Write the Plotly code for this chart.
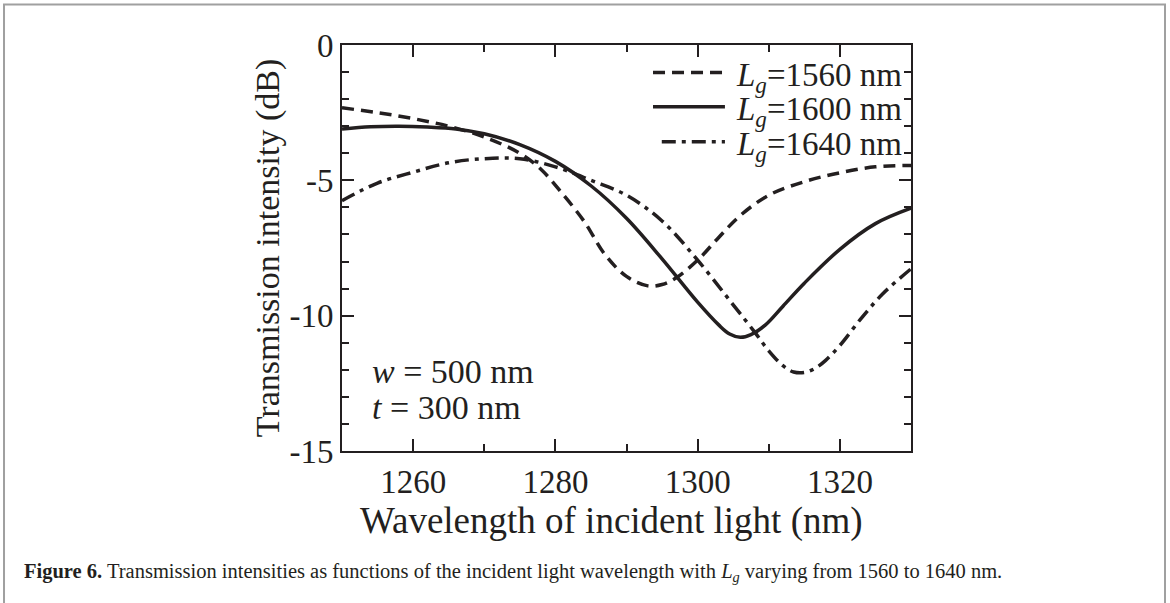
import plotly.graph_objects as go

# ---- data ----
wl_1560 = [1250, 1255, 1260, 1265, 1270, 1275, 1278, 1281, 1284, 1287, 1290, 1293, 1295, 1297,
           1300, 1303, 1306, 1310, 1315, 1320, 1325, 1330]
t_1560 = [-2.32, -2.5, -2.72, -3.0, -3.4, -4.0, -4.6, -5.5, -6.5, -7.75, -8.55, -8.9, -8.85, -8.6,
          -7.95, -7.1, -6.3, -5.55, -5.05, -4.72, -4.5, -4.45]

wl_1600 = [1250, 1254, 1258, 1262, 1266, 1270, 1275, 1280, 1285, 1290, 1295, 1300, 1303, 1304.5,
           1306, 1307.5, 1309.5, 1312, 1315, 1320, 1325, 1330]
t_1600 = [-3.1, -3.02, -3.0, -3.03, -3.1, -3.28, -3.68, -4.3, -5.2, -6.4, -7.9, -9.5, -10.35, -10.68,
          -10.8, -10.7, -10.35, -9.65, -8.8, -7.55, -6.6, -6.03]

wl_1640 = [1250, 1255, 1260, 1265, 1270, 1275, 1280, 1285, 1290, 1295, 1300, 1305, 1308, 1310,
           1312, 1313.5, 1315, 1316.5, 1318, 1320, 1323, 1326, 1330]
t_1640 = [-5.75, -5.1, -4.7, -4.35, -4.2, -4.2, -4.5, -5.0, -5.55, -6.5, -7.95, -9.6, -10.6, -11.3,
          -11.85, -12.08, -12.1, -11.95, -11.65, -11.1, -10.1, -9.2, -8.27]

series_names = ["<i>L</i><sub><i>g</i></sub>=1560 nm",
                "<i>L</i><sub><i>g</i></sub>=1600 nm",
                "<i>L</i><sub><i>g</i></sub>=1640 nm"]

x_tickvals = [1260, 1280, 1300, 1320]
x_ticktext = ["1260", "1280", "1300", "1320"]
y_tickvals = [0, -5, -10, -15]
y_ticktext = ["0", "-5", "-10", "-15"]

INK = "#231f20"
FONT = "Liberation Serif, Times New Roman, serif"
DASH = "12px,7px"
DASHDOT = "14px,6px,4px,6px"
LW = 3.5

fig = go.Figure()
fig.add_trace(go.Scatter(x=wl_1560, y=t_1560, mode="lines", name=series_names[0],
                         line=dict(color=INK, width=LW, dash=DASH, shape="spline", smoothing=1.0)))
fig.add_trace(go.Scatter(x=wl_1600, y=t_1600, mode="lines", name=series_names[1],
                         line=dict(color=INK, width=LW, shape="spline", smoothing=1.0)))
fig.add_trace(go.Scatter(x=wl_1640, y=t_1640, mode="lines", name=series_names[2],
                         line=dict(color=INK, width=LW, dash=DASHDOT, shape="spline", smoothing=1.0)))

# ---- legend drawn by hand (long samples, right aligned text) ----
leg_y = [0.932, 0.848, 0.762]
leg_x0 = [0.5466, 0.5466, 0.562]
leg_dash = [DASH, "solid", DASHDOT]
for i in range(3):
    fig.add_shape(type="line", xref="paper", yref="paper", x0=leg_x0[i], x1=0.673,
                  y0=leg_y[i], y1=leg_y[i], line=dict(color=INK, width=LW, dash=leg_dash[i]))
    fig.add_annotation(xref="paper", yref="paper", x=0.988, y=leg_y[i] - 0.012, text=series_names[i],
                       showarrow=False, xanchor="right", yanchor="middle",
                       font=dict(family=FONT, size=33, color=INK))

fig.add_annotation(xref="paper", yref="paper", x=0.05, y=0.1946, text="<i>w</i> = 500 nm",
                   showarrow=False, xanchor="left", yanchor="middle",
                   font=dict(family=FONT, size=34, color=INK))
fig.add_annotation(xref="paper", yref="paper", x=0.05, y=0.108, text="<i>t</i> = 300 nm",
                   showarrow=False, xanchor="left", yanchor="middle",
                   font=dict(family=FONT, size=34, color=INK))

# x-axis title (slightly left of the plot centre, as in the reference)
fig.add_annotation(xref="paper", yref="paper", x=0.4745, y=-0.172,
                   text="Wavelength of incident light (nm)",
                   showarrow=False, xanchor="center", yanchor="middle",
                   font=dict(family=FONT, size=37, color=INK))

# caption
fig.add_annotation(xref="paper", yref="paper", x=-0.5624, y=-0.3,
                   text="<b>Figure 6.</b> Transmission intensities as functions of the incident light "
                        "wavelength with <i>L</i><sub><i>g</i></sub> varying from 1560 to 1640 nm.",
                   showarrow=False, xanchor="left", yanchor="middle",
                   font=dict(family=FONT, size=20.5, color=INK))

# outer frame
fig.add_shape(type="rect", xref="paper", yref="paper", x0=-0.594, x1=1.4464, y0=-0.5, y1=1.1,
              line=dict(color="#a0a0a0", width=2), layer="below")

axis_common = dict(showline=True, linecolor=INK, linewidth=2, mirror="ticks", ticks="inside",
                   tickcolor=INK, tickwidth=2, ticklen=12, showgrid=False, zeroline=False,
                   tickfont=dict(family=FONT, size=33, color=INK))

fig.update_layout(
    width=1170, height=603,
    margin=dict(l=342, r=259, t=45, b=152),
    paper_bgcolor="white", plot_bgcolor="white",
    showlegend=False,
    xaxis=dict(range=[1250, 1330], tickvals=x_tickvals, ticktext=x_ticktext,
               minor=dict(ticks="inside", dtick=10, tick0=1250, ticklen=7, tickwidth=2, tickcolor=INK),
               **axis_common),
    yaxis=dict(range=[-15, 0], tickvals=y_tickvals, ticktext=y_ticktext,
               minor=dict(ticks="inside", dtick=1, tick0=0, ticklen=7, tickwidth=2, tickcolor=INK),
               title=dict(text="Transmission intensity (dB)", standoff=0,
                          font=dict(family=FONT, size=34, color=INK)),
               **axis_common),
)

fig.write_html("out.html")
